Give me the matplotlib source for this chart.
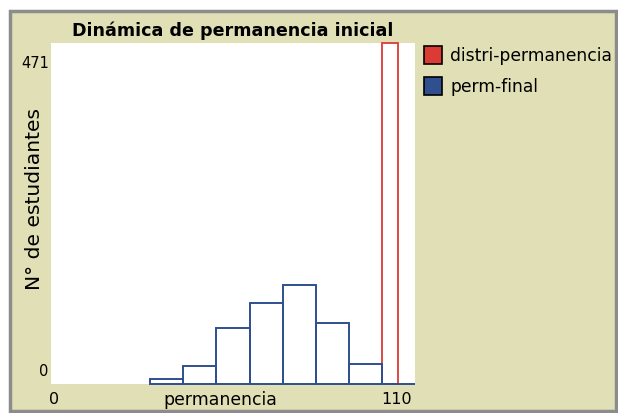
"""Histograma de permanencia inicial (estilo NetLogo)."""

import matplotlib

matplotlib.use("Agg")
import matplotlib.pyplot as plt
from matplotlib.patches import Rectangle

# Datos
PERM_BINS = [30, 40, 50, 60, 70, 80, 90, 100]
PERM_FINAL_COUNTS = [7, 25, 78, 112, 137, 84, 28, 0]
DISTRI_BINS = [100]
DISTRI_COUNTS = [471]
X_RANGE = [0, 110]
Y_RANGE = [0, 471]
SERIES_NAMES = ["distri-permanencia", "perm-final"]

W, H = 618, 414
BG = "#e0dfb5"
RED = "#dc3b33"
BLUE = "#2f4f8f"

fig = plt.figure(figsize=(W / 100, H / 100), dpi=100)
fig.patch.set_facecolor("white")

# panel + borde gris
fig.patches.append(
    Rectangle((10 / W, 1 - 412 / H), 606 / W, 400 / H, transform=fig.transFigure,
              facecolor=BG, edgecolor="#8c8c8c", linewidth=2.5, zorder=-1)
)

left, right, top, bottom = 51, 415, 44, 385
ax = fig.add_axes([left / W, 1 - bottom / H, (right - left) / W, (bottom - top) / H])
ax.set_zorder(1)
ax.set_facecolor("white")
for s in ax.spines.values():
    s.set_visible(False)
ax.set_xticks([])
ax.set_yticks([])
ax.set_xlim(*X_RANGE)
ax.set_ylim(*Y_RANGE)

ax.bar(PERM_BINS, PERM_FINAL_COUNTS, width=10, align="edge", fill=False,
       edgecolor=BLUE, linewidth=1.4, clip_on=False, zorder=3)
ax.bar(DISTRI_BINS, DISTRI_COUNTS, width=5, align="edge", fill=False,
       edgecolor=RED, linewidth=1.3, clip_on=False, zorder=2)

# textos
fig.text((left + right) / 2 / W, 1 - 31 / H, "Dinámica de permanencia inicial",
         ha="center", va="center", fontsize=12.6, fontweight="bold")
fig.text(49 / W, 1 - 63 / H, str(Y_RANGE[1]), ha="right", va="center", fontsize=10.5)
fig.text(48 / W, 1 - 372 / H, str(Y_RANGE[0]), ha="right", va="center", fontsize=10.5)
fig.text(35 / W, 1 - 199 / H, "N° de estudiantes", rotation=90,
         ha="center", va="center", fontsize=14.6)
fig.text(49 / W, 1 - 400 / H, str(X_RANGE[0]), ha="left", va="center", fontsize=11.5)
fig.text(412 / W, 1 - 400 / H, str(X_RANGE[1]), ha="right", va="center", fontsize=11.5)
fig.text(220 / W, 1 - 400 / H, "permanencia", ha="center", va="center", fontsize=12.4)

# leyenda
for i, (name, col) in enumerate(zip(SERIES_NAMES, [RED, BLUE])):
    yc = 56 + 31 * i
    fig.patches.append(
        Rectangle((424 / W, 1 - (yc + 9) / H), 18 / W, 18 / H, transform=fig.transFigure,
                  facecolor=col, edgecolor="black", linewidth=1.2, zorder=2)
    )
    fig.text(450 / W, 1 - yc / H, name, ha="left", va="center", fontsize=12.3)

fig.savefig("out.png", dpi=100)
